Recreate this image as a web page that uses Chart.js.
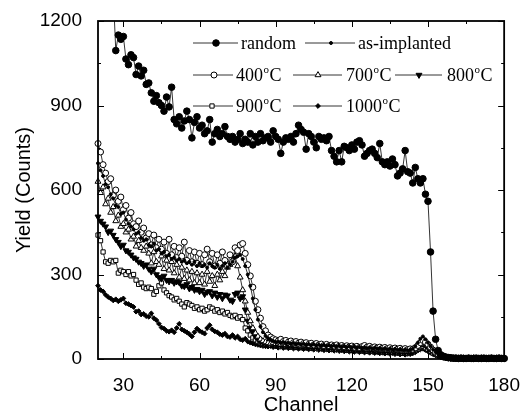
<!DOCTYPE html>
<html>
<head>
<meta charset="utf-8">
<script src="https://cdn.jsdelivr.net/npm/chart.js@4.4.1/dist/chart.umd.min.js"></script>
<style>
  html, body { margin: 0; padding: 0; background: #fff; }
  canvas { display: block; }
</style>
</head>
<body>
<canvas id="rbs-chart" width="527" height="419"></canvas>
<script>
// Canais 20..180
const channels = [
  20,21,22,23,24,25,26,27,28,29,
  30,31,32,33,34,35,36,37,38,39,
  40,41,42,43,44,45,46,47,48,49,
  50,51,52,53,54,55,56,57,58,59,
  60,61,62,63,64,65,66,67,68,69,
  70,71,72,73,74,75,76,77,78,79,
  80,81,82,83,84,85,86,87,88,89,
  90,91,92,93,94,95,96,97,98,99,
  100,101,102,103,104,105,106,107,108,109,
  110,111,112,113,114,115,116,117,118,119,
  120,121,122,123,124,125,126,127,128,129,
  130,131,132,133,134,135,136,137,138,139,
  140,141,142,143,144,145,146,147,148,149,
  150,151,152,153,154,155,156,157,158,159,
  160,161,162,163,164,165,166,167,168,169,
  170,171,172,173,174,175,176,177,178,179,180
];

const randomYield = [
  null,null,null,null,null,null,1300,1095,1150,1135,
  1145,1065,1045,1080,1070,1010,1040,1005,1025,975,
  980,945,915,935,910,900,880,930,895,965,
  850,835,860,820,845,880,850,785,840,860,
  820,830,800,810,850,770,800,815,790,800,
  825,790,780,790,770,780,800,765,780,770,
  800,760,790,770,800,775,785,790,770,810,
  790,780,730,770,785,780,790,770,800,830,
  815,805,745,800,790,770,750,790,780,785,
  775,790,740,720,700,740,700,755,750,740,
  760,745,770,775,760,720,730,740,745,730,
  715,765,700,690,700,685,710,690,650,660,
  675,740,665,660,625,680,640,625,640,585,
  560,380,170,70,30,15,10,7,5,4,
  3,3,2,3,2,2,3,2,2,3,
  2,2,3,2,2,3,2,2,3,2,2
];

const asImplanted = [
  695,670,650,620,610,585,570,545,540,515,
  520,495,480,470,460,445,450,430,420,425,
  405,400,410,385,390,375,380,365,370,355,
  360,350,355,345,350,340,345,335,345,330,
  340,330,335,325,340,330,325,335,320,330,
  340,325,335,345,360,365,370,355,330,300,
  260,215,175,140,115,95,82,74,68,64,
  60,62,58,60,56,58,54,57,53,55,
  52,54,50,53,49,52,48,51,47,50,
  46,49,45,48,44,47,43,46,42,45,
  41,44,40,43,39,42,38,41,37,40,
  36,39,35,38,34,37,33,36,32,35,
  31,34,30,33,36,45,58,72,80,70,
  58,45,34,25,18,12,9,6,5,4,
  3,3,2,2,3,2,2,3,2,2,
  3,2,2,2,3,2,3,2,2,2,2
];

const yield400 = [
  765,735,690,660,630,640,580,600,560,575,
  530,545,500,520,480,470,490,450,465,430,
  445,405,440,395,425,390,415,375,425,370,
  400,360,395,365,415,350,385,345,380,340,
  375,335,370,390,345,375,330,370,340,380,
  350,330,370,345,395,385,405,410,375,335,
  295,255,205,175,145,115,100,85,78,72,
  68,64,70,62,66,60,64,58,62,56,
  60,55,58,52,56,50,55,50,53,48,
  52,47,50,46,50,45,48,44,47,43,
  46,42,45,41,44,48,42,45,40,43,
  39,42,38,41,37,40,36,39,35,38,
  34,37,33,36,35,40,48,58,66,60,
  52,42,32,24,18,13,9,6,5,4,
  3,2,3,3,2,2,3,2,3,2,
  2,3,2,2,3,2,2,3,2,2,2
];

const yield700 = [
  630,590,610,550,570,520,540,490,510,470,
  480,450,460,425,435,400,420,395,385,400,
  375,340,380,345,335,365,320,350,315,345,
  305,335,290,325,285,315,280,310,270,305,
  270,300,265,310,275,295,260,300,280,310,
  295,325,335,350,365,330,290,245,205,165,
  135,110,92,80,70,64,60,57,55,58,
  54,56,52,55,51,54,50,53,49,52,
  48,51,47,50,46,49,45,48,44,47,
  43,46,42,45,41,44,40,43,39,42,
  38,41,37,40,36,39,35,38,34,37,
  33,36,32,35,31,34,30,33,29,32,
  28,31,27,30,32,38,46,55,60,55,
  47,38,30,22,16,11,8,6,4,3,
  2,3,2,2,3,2,2,2,3,2,
  2,3,2,2,2,3,2,2,3,2,2
];

const yield800 = [
  505,490,480,470,450,455,440,425,415,400,
  405,385,380,370,360,355,345,340,330,335,
  320,310,320,300,290,285,295,280,275,280,
  270,275,272,260,258,265,250,255,245,248,
  240,245,230,238,240,225,235,220,230,215,
  228,225,210,205,230,235,215,222,175,135,
  110,95,80,70,62,58,55,52,54,50,
  52,48,51,47,50,46,49,45,48,44,
  47,43,46,42,45,41,44,40,43,39,
  42,38,41,37,40,36,39,35,38,34,
  37,33,36,32,35,31,34,30,33,29,
  32,28,31,27,30,26,29,25,28,24,
  27,23,26,24,28,34,42,50,54,48,
  40,32,25,19,14,10,7,5,4,3,
  3,2,2,3,2,2,3,2,2,2,
  3,2,2,3,2,2,2,3,2,2,2
];

const yield900 = [
  440,420,380,345,340,350,345,350,305,315,
  310,300,310,295,300,280,265,270,255,250,
  255,250,230,240,260,270,245,235,225,220,
  210,215,205,195,185,200,195,190,180,185,
  175,180,170,175,185,180,170,175,165,170,
  160,165,155,150,155,145,150,140,110,100,
  85,75,68,62,58,55,52,54,50,52,
  48,50,46,49,45,48,44,47,43,46,
  42,45,41,44,40,43,39,42,38,41,
  37,40,36,39,35,38,34,37,33,36,
  32,35,31,34,30,33,29,32,28,31,
  27,30,26,29,25,28,24,27,23,26,
  22,25,21,24,26,30,36,42,45,40,
  34,27,21,16,12,9,6,5,4,3,
  2,3,2,2,3,2,2,3,2,2,
  2,2,3,2,2,3,2,2,2,3,2
];

const yield1000 = [
  260,245,240,228,220,215,208,212,205,210,
  215,198,195,190,185,168,170,158,160,152,
  150,162,145,138,125,112,108,100,97,102,
  95,110,125,105,100,95,88,80,95,108,
  100,95,90,110,120,105,98,95,88,85,
  90,80,78,85,75,80,70,67,72,62,
  58,55,52,50,48,46,45,44,46,42,
  44,40,43,39,42,38,41,37,40,36,
  39,35,38,34,37,33,36,32,35,31,
  34,30,33,29,32,28,31,27,30,26,
  29,25,28,24,27,23,26,22,25,21,
  24,20,23,19,22,18,21,17,20,16,
  19,15,18,17,20,24,30,34,36,32,
  27,22,17,13,10,7,5,4,3,3,
  2,2,3,2,2,2,3,2,2,2,
  3,2,2,2,2,3,2,2,2,2,2
];

const seriesNames = ['random', 'as-implanted', '400°C', '700°C', '800°C', '900°C', '1000°C'];
const xTicks = [30, 60, 90, 120, 150, 180];
const yTicks = [0, 300, 600, 900, 1200];
const xMinorTicks = [45, 75, 105, 135, 165];
const yMinorTicks = [150, 450, 750, 1050];

const sansFont = 'Liberation Sans, Arial, sans-serif';
const serifFont = 'Liberation Serif, Times New Roman, serif';

// monta os pontos {x, y} a partir dos arrays
const toPoints = (values) => channels.map((c, i) => ({ x: c, y: values[i] }));

const makeDataset = (label, values, style) => Object.assign({
  label,
  data: toPoints(values),
  borderColor: '#000',
  borderWidth: 0.8,
  pointBorderColor: '#000',
  pointBorderWidth: 1,
  pointBackgroundColor: '#000',
  pointRotation: 0,
  spanGaps: false,
  tension: 0,
  clip: { left: 4, right: 4, top: 0, bottom: 5 }
}, style);

const datasets = [
  makeDataset(seriesNames[0], randomYield, { pointStyle: 'circle', pointRadius: 3.3 }),
  makeDataset(seriesNames[1], asImplanted, { pointStyle: 'circle', pointRadius: 1.5 }),
  makeDataset(seriesNames[2], yield400, { pointStyle: 'circle', pointRadius: 3, pointBackgroundColor: '#fff' }),
  makeDataset(seriesNames[3], yield700, { pointStyle: 'triangle', pointRadius: 3.4, pointBackgroundColor: '#fff' }),
  makeDataset(seriesNames[4], yield800, { pointStyle: 'triangle', pointRadius: 3.4, pointRotation: 180 }),
  makeDataset(seriesNames[5], yield900, { pointStyle: 'rect', pointRadius: 3, pointBackgroundColor: '#fff' }),
  makeDataset(seriesNames[6], yield1000, { pointStyle: 'rectRot', pointRadius: 2.4 })
];

// legenda desenhada dentro da área do gráfico: [dataset, x0 linha, x1 linha, x marcador, x texto, y]
const legendLayout = [
  [0, 193, 238, 216, 241, 43],
  [1, 305, 355, 331, 358, 43],
  [2, 193, 233, 214, 236, 75],
  [3, 293, 342, 318, 346, 75],
  [4, 395, 442, 419, 447, 75],
  [5, 193, 233, 212, 236, 106],
  [6, 293, 342, 318, 346, 106]
];

// escreve o rótulo com o "°" como um pequeno "o" sobrescrito, como no original
const drawLabel = (ctx, text, x, y) => {
  const parts = text.split('°');
  ctx.font = '18px ' + serifFont;
  ctx.fillText(parts[0], x, y);
  if (parts.length < 2) return;
  let cx = x + ctx.measureText(parts[0]).width + 0.5;
  ctx.font = '11px ' + serifFont;
  ctx.fillText('o', cx, y - 6);
  cx += ctx.measureText('o').width + 0.5;
  ctx.font = '18px ' + serifFont;
  ctx.fillText(parts[1], cx, y);
};

const framePlugin = {
  id: 'frameTicks',
  afterDatasetsDraw(chart) {
    const { ctx, chartArea: a, scales } = chart;
    ctx.save();
    ctx.strokeStyle = '#000';
    ctx.lineWidth = 1;
    const tick = (len, vals, isX) => {
      vals.forEach(v => {
        ctx.beginPath();
        if (isX) {
          const px = Math.round(scales.x.getPixelForValue(v)) + 0.5;
          ctx.moveTo(px, a.bottom); ctx.lineTo(px, a.bottom - len);
          ctx.moveTo(px, a.top); ctx.lineTo(px, a.top + len);
        } else {
          const py = Math.round(scales.y.getPixelForValue(v)) + 0.5;
          ctx.moveTo(a.left, py); ctx.lineTo(a.left + len, py);
          ctx.moveTo(a.right, py); ctx.lineTo(a.right - len, py);
        }
        ctx.stroke();
      });
    };
    tick(6, xTicks, true);
    tick(3, xMinorTicks, true);
    tick(6, yTicks, false);
    tick(3, yMinorTicks, false);
    ctx.lineWidth = 1.8;
    ctx.strokeRect(a.left, a.top, a.right - a.left, a.bottom - a.top);
    ctx.restore();
  },
  afterDraw(chart) {
    const { ctx } = chart;
    ctx.save();
    legendLayout.forEach(([idx, x0, x1, xm, xt, y]) => {
      const ds = chart.data.datasets[idx];
      ctx.strokeStyle = '#000';
      ctx.lineWidth = 0.8;
      ctx.beginPath();
      ctx.moveTo(x0, y); ctx.lineTo(x1, y);
      ctx.stroke();
      ctx.fillStyle = ds.pointBackgroundColor;
      ctx.lineWidth = 1;
      Chart.helpers.drawPoint(ctx, {
        pointStyle: ds.pointStyle,
        radius: ds.pointRadius,
        rotation: ds.pointRotation,
        borderWidth: 1
      }, xm, y);
      ctx.fillStyle = '#000';
      ctx.textAlign = 'left';
      ctx.textBaseline = 'middle';
      drawLabel(ctx, ds.label, xt, y + 1);
    });
    ctx.restore();
  }
};

const chart = new Chart(document.getElementById('rbs-chart'), {
  type: 'line',
  data: { datasets },
  options: {
    responsive: false,
    animation: false,
    devicePixelRatio: 1,
    layout: { padding: { left: 0, top: 21, right: 18, bottom: 0 } },
    plugins: { legend: { display: false }, tooltip: { enabled: false } },
    scales: {
      x: {
        type: 'linear',
        min: 20,
        max: 180,
        grid: { display: false },
        border: { display: false },
        afterBuildTicks: (s) => { s.ticks = xTicks.map(v => ({ value: v })); },
        afterFit: (s) => { s.height = 60; },
        ticks: { color: '#000', padding: 7, maxRotation: 0, autoSkip: false, callback: (v) => String(v), font: { family: sansFont, size: 19 } },
        title: { display: true, text: 'Channel', color: '#000', padding: { top: 0, bottom: 2 }, font: { family: sansFont, size: 20 } }
      },
      y: {
        min: 0,
        max: 1200,
        grid: { display: false },
        border: { display: false },
        afterBuildTicks: (s) => { s.ticks = yTicks.map(v => ({ value: v })); },
        afterFit: (s) => { s.width = 98; },
        ticks: { color: '#000', padding: 8, callback: (v) => String(v), font: { family: sansFont, size: 19 } },
        title: { display: true, text: 'Yield (Counts)', color: '#000', padding: { top: 12, bottom: 0 }, font: { family: sansFont, size: 20 } }
      }
    }
  },
  plugins: [framePlugin]
});
</script>
</body>
</html>
